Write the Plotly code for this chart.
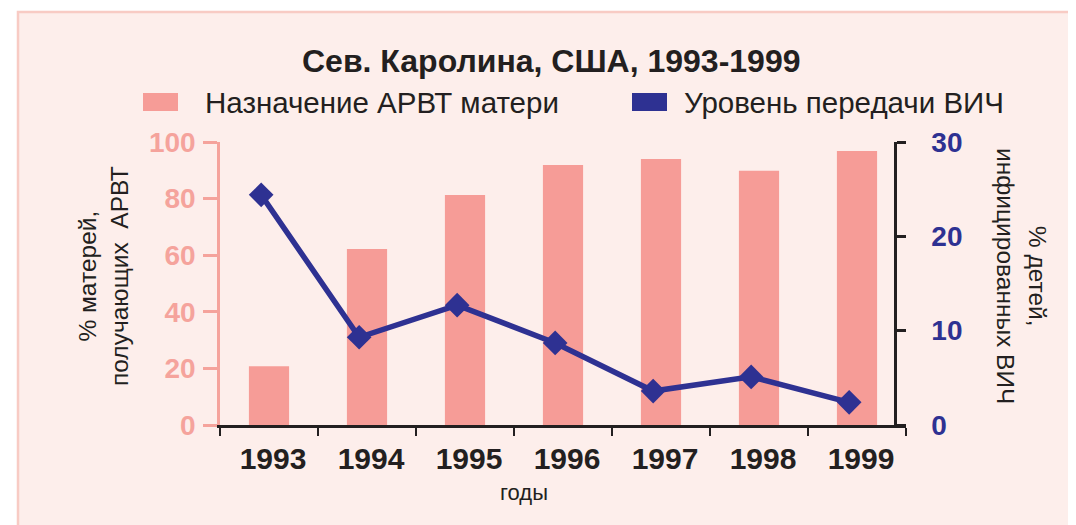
import plotly.graph_objects as go

years = ["1993", "1994", "1995", "1996", "1997", "1998", "1999"]
arvt_pct = [20.8, 62.2, 81.3, 91.9, 94.0, 89.8, 96.8]
hiv_pct = [24.4, 9.3, 12.7, 8.7, 3.6, 5.1, 2.4]

title_text = "Сев. Каролина, США, 1993-1999"
legend_bar = "Назначение АРВТ матери"
legend_line = "Уровень передачи ВИЧ"
y1_title = "% матерей,<br>получающих  АРВТ"
y2_title = "% детей,<br>инфицированных ВИЧ"
x_title = "годы"

W, H = 1076, 525
OFF = 8  # page body margin
L, R, T, B = 220 - OFF, 906 - OFF, 142 - OFF, 425 - OFF
PINK = "#f69c97"
PINK_TXT = "#f5a39c"
BLUE = "#2e3192"
BG = "#fdeeeb"
FONT = "Liberation Sans, Arial, sans-serif"


def px(x):
    return (x - OFF - L) / (R - L)


def py(y):
    return (B - (y - OFF)) / (B - T)


fig = go.Figure()
fig.add_trace(go.Bar(x=years, y=arvt_pct, marker=dict(color=PINK, line=dict(width=0)),
                     width=0.41, name=legend_bar, showlegend=False))
fig.add_trace(go.Scatter(x=years, y=hiv_pct, yaxis="y2", xaxis="x2", mode="lines+markers",
                         line=dict(color=BLUE, width=5.5),
                         marker=dict(symbol="diamond", size=19, color=BLUE),
                         name=legend_line, showlegend=False))

shapes = [
    dict(type="rect", xref="paper", yref="paper", x0=px(18), x1=px(1100), y0=py(12), y1=py(560),
         fillcolor=BG, line=dict(color="#f8cbc4", width=2.5), layer="below"),
    dict(type="rect", xref="paper", yref="paper", x0=px(143), x1=px(178), y0=py(93), y1=py(111),
         fillcolor=PINK, line=dict(width=0)),
    dict(type="rect", xref="paper", yref="paper", x0=px(632), x1=px(667), y0=py(93), y1=py(111),
         fillcolor=BLUE, line=dict(width=0)),
]

annotations = [
    dict(text="<b>" + title_text + "</b>", xref="paper", yref="paper", x=px(551), y=py(61),
         showarrow=False, font=dict(size=32, color="#231f20", family=FONT), xanchor="center", yanchor="middle"),
    dict(text=legend_bar, xref="paper", yref="paper", x=px(203), y=py(102),
         showarrow=False, font=dict(size=29.5, color="#231f20", family=FONT), xanchor="left", yanchor="middle"),
    dict(text=legend_line, xref="paper", yref="paper", x=px(682), y=py(102),
         showarrow=False, font=dict(size=29.5, color="#231f20", family=FONT), xanchor="left", yanchor="middle"),
    dict(text=y1_title, xref="paper", yref="paper", x=px(103), y=py(276), textangle=-90,
         showarrow=False, font=dict(size=24.5, color="#231f20", family=FONT), xanchor="center", yanchor="middle"),
    dict(text=y2_title, xref="paper", yref="paper", x=px(1022), y=py(276), textangle=90,
         showarrow=False, font=dict(size=24.5, color="#231f20", family=FONT), xanchor="center", yanchor="middle"),
    dict(text=x_title, xref="paper", yref="paper", x=px(524), y=py(492),
         showarrow=False, font=dict(size=22, color="#231f20", family=FONT), xanchor="center", yanchor="middle"),
]

fig.update_layout(
    width=W, height=H,
    margin=dict(l=L, r=W - R, t=T, b=H - B, pad=0),
    paper_bgcolor="white",
    plot_bgcolor="rgba(0,0,0,0)",
    font=dict(family=FONT),
    shapes=shapes,
    annotations=annotations,
    xaxis=dict(type="category", range=[-0.5, 6.5], showline=True, linecolor="#231f20", linewidth=2.5,
               ticks="outside", tickson="boundaries", ticklen=8, tickwidth=2, tickcolor="#231f20",
               showgrid=False, zeroline=False, ticklabelstandoff=5, ticklabelshift=4,
               tickfont=dict(size=30, color="#231f20", family=FONT, weight="bold")),
    xaxis2=dict(type="category", overlaying="x", range=[-0.42, 6.58], visible=False),
    yaxis=dict(range=[0, 100], tickvals=[0, 20, 40, 60, 80, 100], showline=True, linecolor=PINK_TXT,
               linewidth=2.5, ticks="outside", ticklen=14, tickwidth=2.5, tickcolor=PINK_TXT,
               showgrid=False, zeroline=False, ticklabelstandoff=2,
               tickfont=dict(size=28, color=PINK_TXT, family=FONT, weight="bold")),
    yaxis2=dict(range=[0, 30], tickvals=[0, 10, 20, 30], overlaying="y", side="right", anchor="free",
                position=px(895), showline=True, linecolor="#231f20", linewidth=2.5,
                ticks="outside", ticklen=9, tickwidth=2.5, tickcolor="#231f20",
                showgrid=False, zeroline=False, ticklabelstandoff=20,
                tickfont=dict(size=28, color=BLUE, family=FONT, weight="bold")),
)

fig.write_html("out.html")
